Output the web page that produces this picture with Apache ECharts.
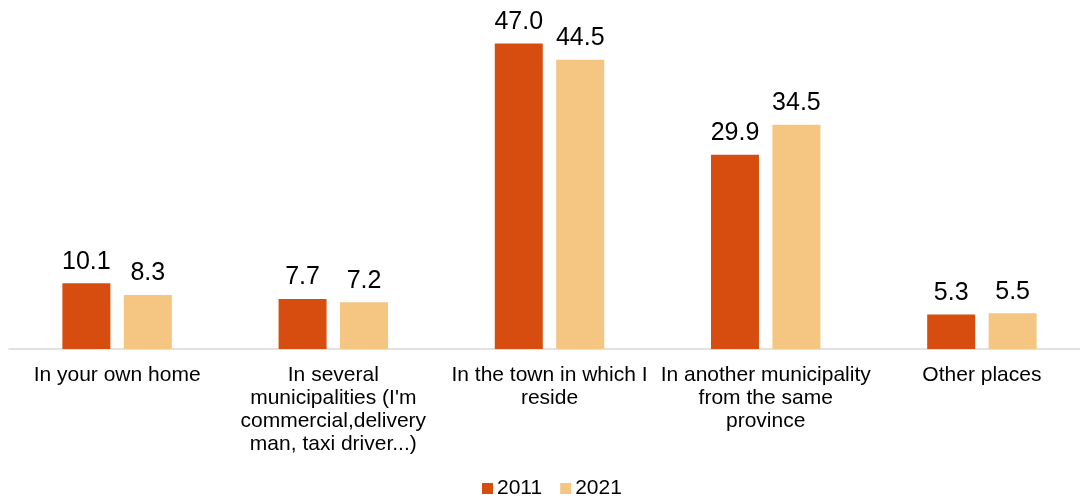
<!DOCTYPE html>
<html>
<head>
<meta charset="utf-8">
<script src="https://cdn.jsdelivr.net/npm/echarts@6/dist/echarts.min.js"></script>
<style>
  html, body { margin: 0; padding: 0; background: #ffffff; }
  #chart { width: 1080px; height: 498px; }
</style>
</head>
<body>
<div id="chart"></div>
<script>
// Workplace location, share of workers (%)
const categories = [
  "In your own home",
  "In several\nmunicipalities (I'm\ncommercial,delivery\nman, taxi driver...)",
  "In the town in which I\nreside",
  "In another municipality\nfrom the same\nprovince",
  "Other places"
];
const seriesNames = ["2011", "2021"];
const values2011 = [10.1, 7.7, 47.0, 29.9, 5.3];
const values2021 = [8.3, 7.2, 44.5, 34.5, 5.5];

const colors = ["#D64D0F", "#F5C582"];
const fontFamily = "'Liberation Sans', Arial, sans-serif";

const chart = echarts.init(document.getElementById('chart'), null, { renderer: 'canvas' });

function makeSeries(name, data, color) {
  return {
    name: name,
    type: 'bar',
    data: data,
    barWidth: 48,
    barGap: '28%',
    itemStyle: { color: color },
    label: {
      show: true,
      position: 'top',
      distance: 9,
      color: '#000000',
      fontSize: 25,
      fontFamily: fontFamily,
      formatter: p => p.value.toFixed(1)
    }
  };
}

chart.setOption({
  animation: false,
  backgroundColor: '#ffffff',
  textStyle: { fontFamily: fontFamily },
  legend: {
    bottom: -6,
    left: 477,
    itemWidth: 11,
    itemHeight: 11,
    itemGap: 18,
    icon: 'rect',
    textStyle: { fontSize: 21, color: '#000000', fontFamily: fontFamily, padding: [0, 0, 0, -1] },
    data: seriesNames
  },
  grid: {
    left: 9, width: 1081, top: 24, height: 325,
    containLabel: false,
    outerBoundsMode: 'none'
  },
  xAxis: {
    type: 'category',
    data: categories,
    axisLine: { show: true, lineStyle: { color: '#d9d9d9', width: 1.5 } },
    axisTick: { show: false },
    axisLabel: {
      interval: 0,
      margin: 15,
      color: '#000000',
      fontSize: 21,
      lineHeight: 23,
      fontFamily: fontFamily
    }
  },
  yAxis: {
    type: 'value',
    min: 0,
    max: 50,
    show: false,
    splitLine: { show: false }
  },
  series: [
    makeSeries(seriesNames[0], values2011, colors[0]),
    makeSeries(seriesNames[1], values2021, colors[1])
  ]
});
</script>
</body>
</html>
